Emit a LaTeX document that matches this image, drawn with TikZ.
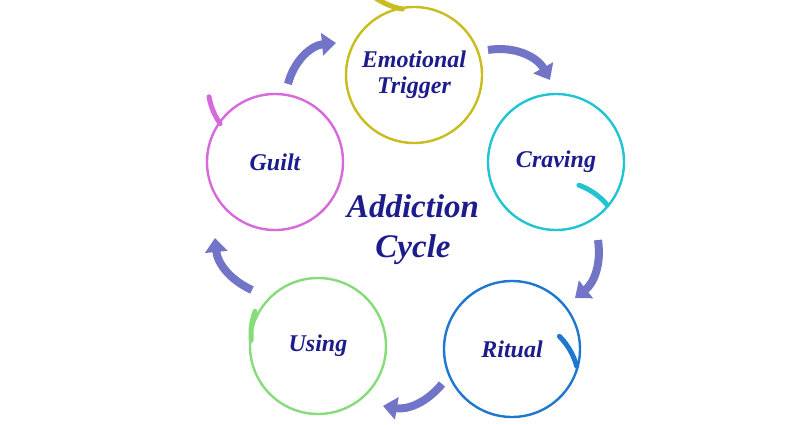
\documentclass[tikz,border=0pt]{standalone}
\usepackage{fontspec}
\setmainfont{Liberation Serif}
\usetikzlibrary{arrows.meta}
\definecolor{txt}{HTML}{1C1C8C}
\definecolor{arr}{HTML}{7274C8}
\tikzset{
  ring/.style={circle, draw=#1, line width=2.4pt, minimum size=136pt, inner sep=0pt, font=\bfseries\itshape\fontsize{24}{26}\selectfont, text=txt, align=center},
  thick arc/.style={draw=#1, line width=5pt, line cap=round},
  flow/.style={draw=arr, line width=8pt, -{Triangle[width=22pt,length=14pt]}},
}
\begin{document}
\begin{tikzpicture}[x=1pt,y=-1pt]
\useasboundingbox (0,0) rectangle (796,425);
\fill[white] (0,0) rectangle (796,425);
\definecolor{cY}{HTML}{C8BC1E}
\definecolor{cC}{HTML}{22C4D2}
\definecolor{cR}{HTML}{1F78D0}
\definecolor{cU}{HTML}{86DC78}
\definecolor{cG}{HTML}{D66ADC}
\node[ring=cY] (e) at (414,75) {Emotional\\Trigger};
\node[ring=cC] (c) at (556,162) {Craving};
\node[ring=cR] (r) at (512,349) {Ritual};
\node[ring=cU] (u) at (318,346) {Using};
\node[ring=cG] (g) at (275,162) {Guilt};
\node[text=txt, font=\bfseries\itshape\fontsize{33}{40}\selectfont, align=center] (t) at (413,230) {Addiction\\Cycle};
\draw[thick arc=cY] (e.center) ++(-100:67) arc[start angle=-100, end angle=-130, radius=67pt];
\draw[thick arc=cG] (g.center) ++(-145:67) arc[start angle=-145, end angle=-170, radius=67pt];
\draw[thick arc=cC] (c.center) ++(40:67) arc[start angle=40, end angle=70, radius=67pt];
\draw[thick arc=cR] (r.center) ++(15:67) arc[start angle=15, end angle=45, radius=67pt];
\draw[thick arc=cU] (u.center) ++(-175:67) arc[start angle=-175, end angle=-200, radius=67pt];
\coordinate (a1s) at (288,84); \coordinate (a1e) at (336,43);
\coordinate (a2s) at (488,50); \coordinate (a2e) at (550,80);
\coordinate (a3s) at (598,240); \coordinate (a3e) at (575,298);
\coordinate (a4s) at (442,384); \coordinate (a4e) at (383,406);
\coordinate (a5s) at (252,290); \coordinate (a5e) at (215,238);
\draw[flow] (a1s) to[bend left=35] (a1e);
\draw[flow] (a2s) to[bend left=35] (a2e);
\draw[flow] (a3s) to[bend left=30] (a3e);
\draw[flow] (a4s) to[bend left=30] (a4e);
\draw[flow] (a5s) to[bend left=30] (a5e);
\end{tikzpicture}
\end{document}
